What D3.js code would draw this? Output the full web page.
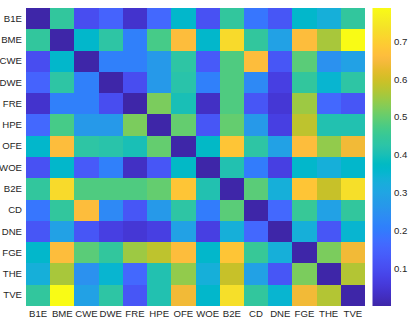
<!DOCTYPE html>
<html>
<head>
<meta charset="utf-8">
<script src="https://cdn.jsdelivr.net/npm/d3@7"></script>
<style>
  html, body { margin: 0; padding: 0; background: #fff; }
  svg { display: block; }
  text { font-family: "Liberation Sans", Arial, Helvetica, sans-serif; }
</style>
</head>
<body>
<svg id="chart" width="415" height="325"></svg>
<script>
// ---- data ----
const labels = ["B1E","BME","CWE","DWE","FRE","HPE","OFE","WOE","B2E","CD","DNE","FGE","THE","TVE"];
const matrix = [
  [0.00,0.44,0.10,0.15,0.04,0.16,0.36,0.11,0.44,0.19,0.12,0.36,0.33,0.44],
  [0.44,0.00,0.36,0.43,0.21,0.47,0.66,0.36,0.72,0.44,0.29,0.66,0.56,0.787],
  [0.10,0.36,0.00,0.21,0.21,0.27,0.43,0.13,0.48,0.66,0.12,0.49,0.25,0.29],
  [0.15,0.43,0.21,0.00,0.10,0.27,0.42,0.21,0.48,0.23,0.07,0.44,0.35,0.43],
  [0.04,0.21,0.21,0.10,0.00,0.52,0.40,0.03,0.48,0.12,0.05,0.55,0.16,0.12],
  [0.16,0.47,0.27,0.27,0.52,0.00,0.50,0.12,0.50,0.27,0.07,0.58,0.41,0.41],
  [0.36,0.66,0.43,0.42,0.40,0.50,0.00,0.37,0.68,0.43,0.29,0.66,0.54,0.64],
  [0.11,0.36,0.13,0.21,0.03,0.12,0.37,0.00,0.41,0.20,0.07,0.36,0.33,0.36],
  [0.44,0.72,0.48,0.48,0.48,0.50,0.68,0.41,0.00,0.49,0.33,0.68,0.59,0.73],
  [0.19,0.44,0.66,0.23,0.12,0.27,0.43,0.20,0.49,0.00,0.16,0.45,0.29,0.44],
  [0.12,0.29,0.12,0.07,0.05,0.07,0.29,0.07,0.33,0.16,0.00,0.33,0.12,0.35],
  [0.36,0.66,0.49,0.44,0.55,0.58,0.66,0.36,0.68,0.45,0.33,0.00,0.52,0.64],
  [0.33,0.56,0.25,0.35,0.16,0.41,0.54,0.33,0.59,0.29,0.12,0.52,0.00,0.57],
  [0.44,0.787,0.29,0.43,0.12,0.41,0.64,0.36,0.73,0.44,0.35,0.64,0.57,0.00]
];
const colorDomain = [0, 0.7875];
const colorTicks = [0.1,0.2,0.3,0.4,0.5,0.6,0.7];

// parula colormap
const parula = [
[0.2422,0.1504,0.6603],[0.2504,0.1650,0.7076],[0.2578,0.1818,0.7511],[0.2647,0.1978,0.7952],
[0.2706,0.2147,0.8364],[0.2751,0.2342,0.8710],[0.2783,0.2559,0.8991],[0.2803,0.2782,0.9221],
[0.2813,0.3006,0.9414],[0.2810,0.3228,0.9579],[0.2795,0.3447,0.9717],[0.2760,0.3667,0.9829],
[0.2699,0.3892,0.9906],[0.2602,0.4123,0.9952],[0.2440,0.4358,0.9988],[0.2206,0.4603,0.9973],
[0.1963,0.4847,0.9892],[0.1834,0.5074,0.9798],[0.1786,0.5289,0.9682],[0.1764,0.5499,0.9520],
[0.1687,0.5703,0.9359],[0.1540,0.5902,0.9218],[0.1460,0.6091,0.9079],[0.1380,0.6276,0.8973],
[0.1248,0.6459,0.8883],[0.1113,0.6635,0.8763],[0.0952,0.6798,0.8598],[0.0689,0.6948,0.8394],
[0.0297,0.7082,0.8163],[0.0036,0.7203,0.7917],[0.0067,0.7312,0.7660],[0.0433,0.7411,0.7394],
[0.0964,0.7500,0.7120],[0.1408,0.7584,0.6842],[0.1717,0.7670,0.6554],[0.1938,0.7758,0.6251],
[0.2161,0.7843,0.5923],[0.2470,0.7918,0.5567],[0.2906,0.7973,0.5188],[0.3406,0.8008,0.4789],
[0.3909,0.8029,0.4354],[0.4456,0.8024,0.3909],[0.5044,0.7993,0.3480],[0.5616,0.7942,0.3045],
[0.6174,0.7876,0.2612],[0.6720,0.7793,0.2227],[0.7242,0.7698,0.1910],[0.7738,0.7598,0.1646],
[0.8203,0.7498,0.1535],[0.8634,0.7406,0.1596],[0.9035,0.7330,0.1774],[0.9393,0.7288,0.2100],
[0.9728,0.7298,0.2394],[0.9956,0.7434,0.2371],[0.9970,0.7659,0.2199],[0.9952,0.7893,0.2028],
[0.9892,0.8136,0.1885],[0.9786,0.8386,0.1766],[0.9676,0.8639,0.1643],[0.9610,0.8890,0.1537],
[0.9597,0.9135,0.1423],[0.9628,0.9373,0.1265],[0.9691,0.9606,0.1064],[0.9769,0.9839,0.0805]
].map(c => d3.rgb(c[0]*255, c[1]*255, c[2]*255).formatHex());

const interp = d3.piecewise(d3.interpolateRgb, parula);
const color = d3.scaleSequential(interp).domain(colorDomain).clamp(true);

// ---- layout ----
const svg = d3.select("#chart");
const plot = {left: 26, right: 365, top: 8, bottom: 306};
const cb = {left: 372.5, right: 391};

const x = d3.scaleBand().domain(labels).range([plot.left, plot.right]).padding(0);
const y = d3.scaleBand().domain(labels).range([plot.top, plot.bottom]).padding(0);

const cells = [];
matrix.forEach((row, i) => row.forEach((v, j) => cells.push({r: labels[i], c: labels[j], v})));

svg.append("g").selectAll("rect").data(cells).join("rect")
  .attr("x", d => x(d.c))
  .attr("y", d => y(d.r))
  .attr("width", x.bandwidth() + 0.3)
  .attr("height", y.bandwidth() + 0.3)
  .attr("fill", d => color(d.v))
  .attr("shape-rendering", "crispEdges");

const textColor = "#262626";
const fontSize = "9.6px";

// y axis
const yAxis = svg.append("g").attr("transform", `translate(${plot.left},0)`)
  .call(d3.axisLeft(y).tickSize(0).tickPadding(4));
yAxis.select(".domain").remove();
yAxis.selectAll("text").attr("fill", textColor).style("font-size", fontSize)
  .style("font-family", "'Liberation Sans', Arial, sans-serif");

// x axis
const xAxis = svg.append("g").attr("transform", `translate(0,${plot.bottom})`)
  .call(d3.axisBottom(x).tickSize(0).tickPadding(4));
xAxis.select(".domain").remove();
xAxis.selectAll("text").attr("fill", textColor).style("font-size", fontSize)
  .style("font-family", "'Liberation Sans', Arial, sans-serif");

// colorbar
const defs = svg.append("defs");
const grad = defs.append("linearGradient").attr("id", "cbgrad")
  .attr("x1", 0).attr("y1", 1).attr("x2", 0).attr("y2", 0);
parula.forEach((c, i) => grad.append("stop")
  .attr("offset", i / (parula.length - 1)).attr("stop-color", c));

const cbScale = d3.scaleLinear().domain(colorDomain).range([plot.bottom, plot.top]);
svg.append("rect")
  .attr("x", cb.left).attr("y", cbScale(colorDomain[1]))
  .attr("width", cb.right - cb.left)
  .attr("height", cbScale(colorDomain[0]) - cbScale(colorDomain[1]))
  .attr("fill", "url(#cbgrad)");

const cbAxis = svg.append("g").attr("transform", `translate(${cb.right},0)`)
  .call(d3.axisRight(cbScale).tickValues(colorTicks).tickFormat(d3.format(".1f")).tickSize(0).tickPadding(3));
cbAxis.select(".domain").remove();
cbAxis.selectAll("text").attr("fill", textColor).style("font-size", fontSize)
  .style("font-family", "'Liberation Sans', Arial, sans-serif");
</script>
</body>
</html>
